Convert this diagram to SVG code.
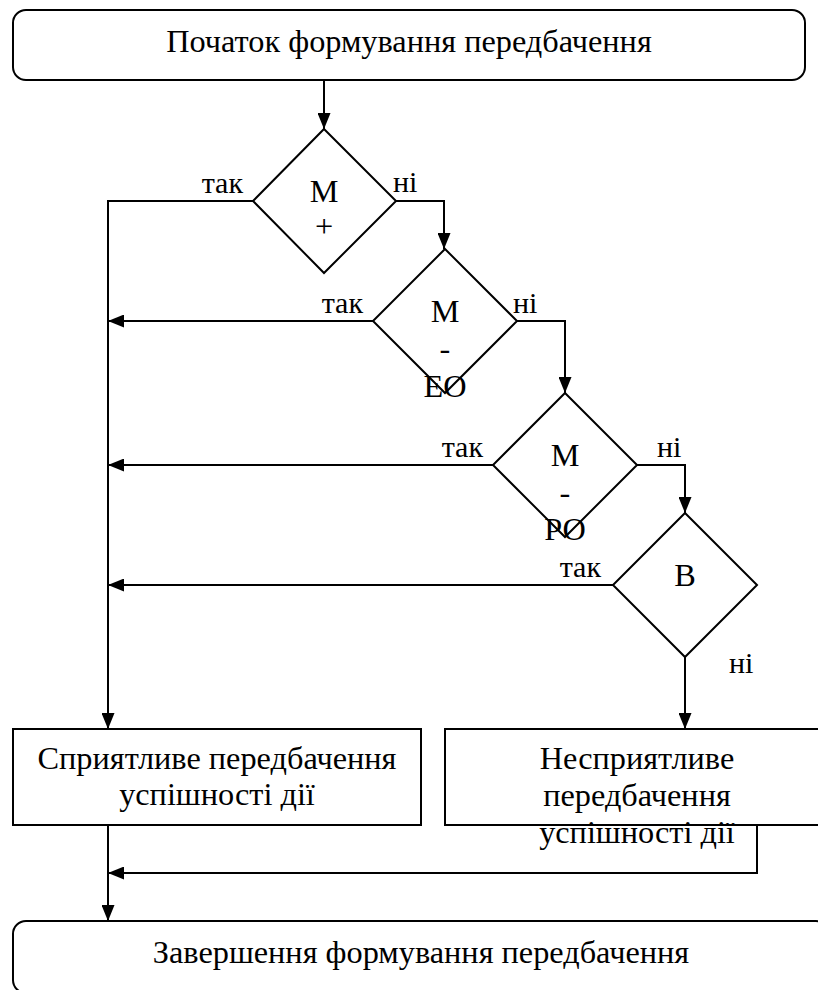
<svg xmlns="http://www.w3.org/2000/svg" width="818" height="990" viewBox="0 0 818 990" font-family="Liberation Serif, Times New Roman, serif">
<defs>
<style>
.s{fill:#fff;stroke:#000;stroke-width:2}
.c{fill:none;stroke:#000;stroke-width:2}
text{font-family:'Liberation Serif','Times New Roman',serif;fill:#000}
.t{font-size:32.3px;text-anchor:middle}
.l{font-size:30px}
.e{text-anchor:end}
</style>
<marker id="a" markerUnits="userSpaceOnUse" markerWidth="16" markerHeight="13" refX="16" refY="6.5" orient="auto">
<path d="M0,0 L16,6.5 L0,13 z" fill="#000"/>
</marker>
</defs>
<rect width="818" height="990" fill="#fff"/>
<g id="connectors">
<path class="c" d="M324,81 L324,129" marker-end="url(#a)"/>
<path class="c" d="M253,201 L108,201 L108,729" marker-end="url(#a)"/>
<path class="c" d="M396,201 L444,201 L444,249" marker-end="url(#a)"/>
<path class="c" d="M373,321 L108,321" marker-end="url(#a)"/>
<path class="c" d="M517,321 L565,321 L565,393" marker-end="url(#a)"/>
<path class="c" d="M493,465 L108,465" marker-end="url(#a)"/>
<path class="c" d="M637,465 L685,465 L685,513" marker-end="url(#a)"/>
<path class="c" d="M613,585 L108,585" marker-end="url(#a)"/>
<path class="c" d="M685,657 L685,729" marker-end="url(#a)"/>
<path class="c" d="M108,825 L108,921" marker-end="url(#a)"/>
<path class="c" d="M757,825 L757,873 L108,873" marker-end="url(#a)"/>
<text class="l e" x="243" y="193">так</text>
<text class="l" x="393" y="192">ні</text>
<text class="l e" x="363" y="313">так</text>
<text class="l" x="513" y="313">ні</text>
<text class="l e" x="483" y="457">так</text>
<text class="l" x="657" y="457">ні</text>
<text class="l e" x="601" y="577">так</text>
<text class="l" x="729" y="673">ні</text>
</g>
<g id="start">
<rect class="s" x="13" y="10" width="792" height="70" rx="13"/>
<text class="t" x="409" y="52">Початок формування передбачення</text>
</g>
<g id="d1">
<path class="s" d="M324,129 L396,201 L324,273 L253,201 z"/>
<text class="t" x="324" y="202">М</text>
<text class="t" x="324" y="237">+</text>
</g>
<g id="d2">
<path class="s" d="M445,249 L517,321 L445,393 L373,321 z"/>
<text class="t" x="445" y="322">М</text>
<text class="t" x="445" y="359">-</text>
<text class="t" x="445" y="397">ЕО</text>
</g>
<g id="d3">
<path class="s" d="M565,393 L637,465 L565,537 L493,465 z"/>
<text class="t" x="565" y="466">М</text>
<text class="t" x="565" y="503">-</text>
<text class="t" x="565" y="540">РО</text>
</g>
<g id="d4">
<path class="s" d="M685,513 L757,585 L685,657 L613,585 z"/>
<text class="t" x="685" y="586">В</text>
</g>
<g id="fav">
<rect class="s" x="13" y="729" width="408" height="96"/>
<text class="t" x="217" y="769">Сприятливе передбачення</text>
<text class="t" x="217" y="805">успішності дії</text>
</g>
<g id="unfav">
<rect class="s" x="445" y="729" width="410" height="96"/>
<text class="t" x="637" y="769">Несприятливе</text>
<text class="t" x="637" y="806">передбачення</text>
<text class="t" x="637" y="843">успішності дії</text>
</g>
<g id="end">
<rect class="s" x="13" y="921" width="816" height="72" rx="13"/>
<text class="t" x="421" y="963">Завершення формування передбачення</text>
</g>
</svg>
